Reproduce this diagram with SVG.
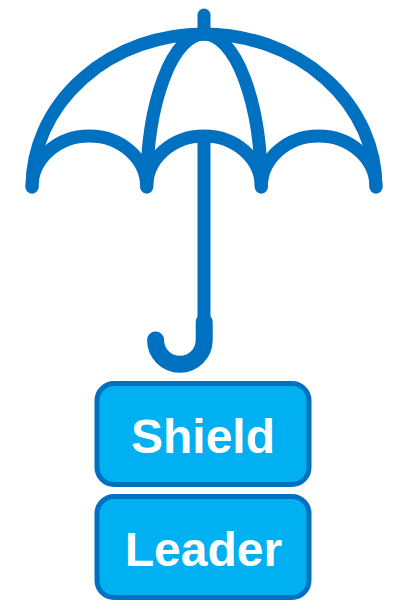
<svg xmlns="http://www.w3.org/2000/svg" width="398" height="606" viewBox="0 0 398 606">
<style>
.u{fill:none;stroke:#0070C0;stroke-width:13;stroke-linecap:round;stroke-linejoin:round}
.b{fill:#00B0F0;stroke:#0070C0;stroke-width:5}
.t{font-family:"Liberation Sans",Arial,sans-serif;font-weight:700;font-size:48px;fill:#fff;text-anchor:middle}
</style>
<g id="umbrella">
<path class="u" d="M32 187A172 153 0 0 1 376 187"/>
<path class="u" d="M32 187A57.300 51 0 0 1 146.700 187A57.300 51 0 0 1 261.300 187A57.300 51 0 0 1 376 187"/>
<path class="u" d="M146.700 187A57.300 153 0 0 1 261.300 187"/>
<path class="u" d="M204 15V34"/>
<path class="u" d="M204 140V320" stroke-linecap="butt"/>
<path class="u" style="stroke-width:17" d="M204.200 322V340A24.300 24.300 0 0 1 155.600 340"/>
</g>
<g id="shield"><rect class="b" x="97" y="383.500" width="212" height="101" rx="17"/><text class="t" x="203" y="453">Shield</text></g>
<g id="leader"><rect class="b" x="97" y="496.500" width="212" height="101" rx="17"/><text class="t" x="203.500" y="566">Leader</text></g>
</svg>
